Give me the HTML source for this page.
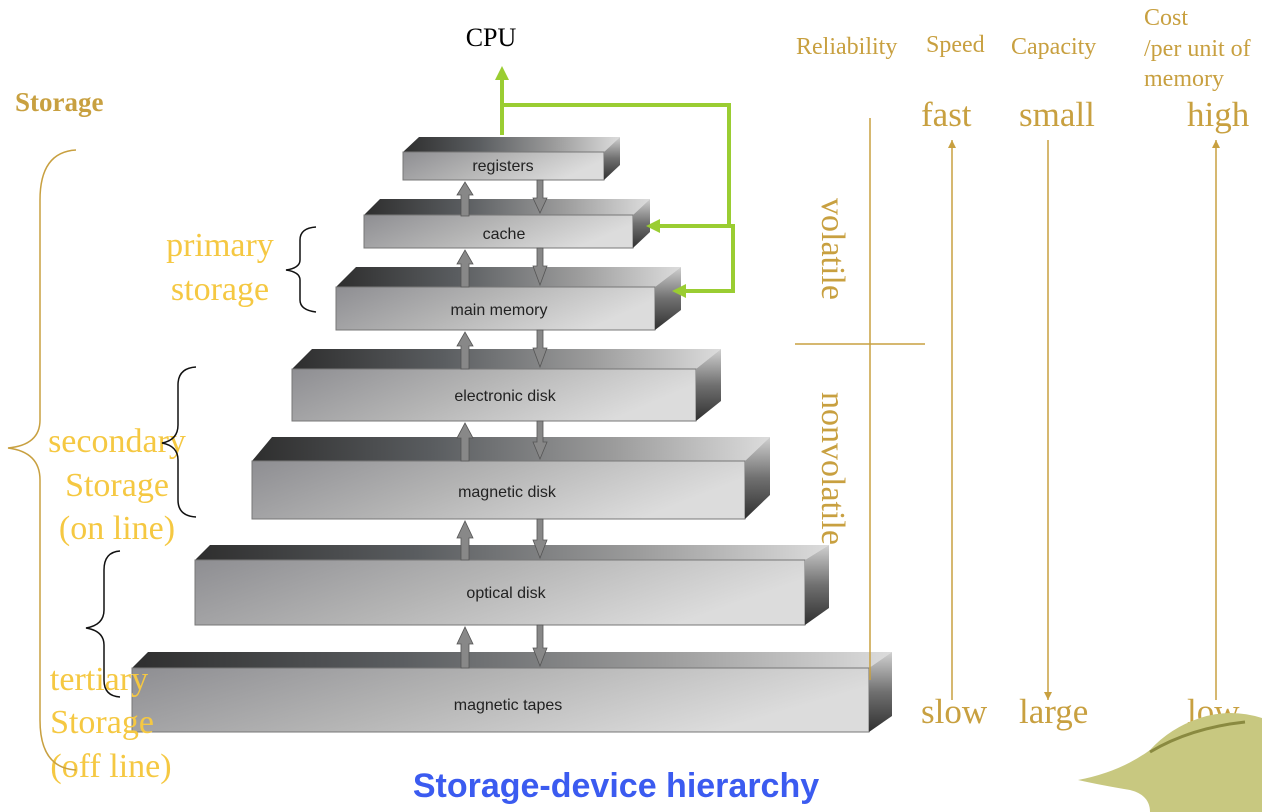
<!DOCTYPE html>
<html><head><meta charset="utf-8"><style>
html,body{margin:0;padding:0;background:#fff;}
svg{display:block}
</style></head><body>
<svg width="1264" height="812" viewBox="0 0 1264 812" xmlns="http://www.w3.org/2000/svg">
<defs>
<linearGradient id="top" x1="0" x2="1" y1="0" y2="0">
<stop offset="0" stop-color="#2e2e2e"/><stop offset="0.35" stop-color="#5a5d60"/><stop offset="0.7" stop-color="#9c9c9c"/><stop offset="1" stop-color="#dcdcdc"/></linearGradient>
<linearGradient id="front" x1="0" x2="1" y1="0" y2="0.3">
<stop offset="0" stop-color="#8e8e92"/><stop offset="0.5" stop-color="#b4b4b4"/><stop offset="1" stop-color="#dcdcdc"/></linearGradient>
<linearGradient id="side" x1="0" x2="0" y1="0" y2="1">
<stop offset="0" stop-color="#d0d0d0"/><stop offset="0.5" stop-color="#707070"/><stop offset="1" stop-color="#303030"/></linearGradient>
<marker id="ga" markerWidth="14" markerHeight="14" refX="10" refY="7" orient="auto" markerUnits="userSpaceOnUse"><path d="M0,0 L14,7 L0,14z" fill="#9acd32"/></marker>
<marker id="ya" markerWidth="10" markerHeight="10" refX="8" refY="5" orient="auto" markerUnits="userSpaceOnUse"><path d="M0,1 L8,5 L0,9z" fill="#c8a040"/></marker>
</defs>
<g font-family="Liberation Sans, sans-serif" font-size="16" fill="#222" text-anchor="middle">
<g>
<polygon points="403,152 419,137 620,137 604,152" fill="url(#top)"/>
<rect x="403" y="152" width="201" height="28" fill="url(#front)" stroke="#777" stroke-width="1"/>
<polygon points="604,152 620,137 620,165 604,180" fill="url(#side)"/>
<text x="503" y="171">registers</text>
</g>
<g>
<polygon points="364,215 380,199 650,199 633,215" fill="url(#top)"/>
<rect x="364" y="215" width="269" height="33" fill="url(#front)" stroke="#777"/>
<polygon points="633,215 650,199 650,232 633,248" fill="url(#side)"/>
<text x="504" y="239">cache</text>
</g>
<g>
<polygon points="336,287 356,267 681,267 655,287" fill="url(#top)"/>
<rect x="336" y="287" width="319" height="43" fill="url(#front)" stroke="#777"/>
<polygon points="655,287 681,267 681,310 655,330" fill="url(#side)"/>
<text x="499" y="315">main memory</text>
</g>
<g>
<polygon points="292,369 312,349 721,349 696,369" fill="url(#top)"/>
<rect x="292" y="369" width="404" height="52" fill="url(#front)" stroke="#777"/>
<polygon points="696,369 721,349 721,401 696,421" fill="url(#side)"/>
<text x="505" y="401">electronic disk</text>
</g>
<g>
<polygon points="252,461 272,437 770,437 745,461" fill="url(#top)"/>
<rect x="252" y="461" width="493" height="58" fill="url(#front)" stroke="#777"/>
<polygon points="745,461 770,437 770,495 745,519" fill="url(#side)"/>
<text x="507" y="497">magnetic disk</text>
</g>
<g>
<polygon points="195,560 210,545 829,545 805,560" fill="url(#top)"/>
<rect x="195" y="560" width="610" height="65" fill="url(#front)" stroke="#777"/>
<polygon points="805,560 829,545 829,608 805,625" fill="url(#side)"/>
<text x="506" y="598">optical disk</text>
</g>
<g>
<polygon points="132,668 148,652 892,652 869,668" fill="url(#top)"/>
<rect x="132" y="668" width="737" height="64" fill="url(#front)" stroke="#777"/>
<polygon points="869,668 892,652 892,716 869,732" fill="url(#side)"/>
<text x="508" y="710">magnetic tapes</text>
</g>
</g>
<g fill="#888" stroke="#555" stroke-width="0.8">
<path d="M461,216 V195 H457 L465,182 L473,195 H469 V216z"/>
<path d="M537,180 V198 H533 L540,213 L547,198 H543 V180z"/>
<path d="M461,287 V264 H457 L465,250 L473,264 H469 V287z"/>
<path d="M537,248 V266 H533 L540,285 L547,266 H543 V248z"/>
<path d="M461,369 V346 H457 L465,332 L473,346 H469 V369z"/>
<path d="M537,330 V348 H533 L540,367 L547,348 H543 V330z"/>
<path d="M461,461 V438 H457 L465,423 L473,438 H469 V461z"/>
<path d="M537,421 V442 H533 L540,459 L547,442 H543 V421z"/>
<path d="M461,560 V538 H457 L465,521 L473,538 H469 V560z"/>
<path d="M537,519 V540 H533 L540,558 L547,540 H543 V519z"/>
<path d="M461,668 V644 H457 L465,627 L473,644 H469 V668z"/>
<path d="M537,625 V648 H533 L540,666 L547,648 H543 V625z"/>
</g>
<g stroke="#9acd32" stroke-width="4" fill="none">
<line x1="502" y1="135" x2="502" y2="70" marker-end="url(#ga)"/>
<polyline points="502,105 729,105 729,226 650,226" marker-end="url(#ga)"/>
<polyline points="729,226 733,226 733,291 676,291" marker-end="url(#ga)"/>
</g>
<text x="491" y="46" font-family="Liberation Serif, serif" font-size="26" text-anchor="middle">CPU</text>
<g font-family="Liberation Serif, serif" fill="#c8a040">
<text x="796" y="54" font-size="24">Reliability</text>
<text x="926" y="52" font-size="24">Speed</text>
<text x="1011" y="54" font-size="24">Capacity</text>
<text x="1144" y="25" font-size="24">Cost</text>
<text x="1144" y="56" font-size="24">/per unit of</text>
<text x="1144" y="86" font-size="24">memory</text>
<text x="921" y="126" font-size="35">fast</text>
<text x="1019" y="126" font-size="35">small</text>
<text x="1187" y="126" font-size="35">high</text>
<text x="921" y="723" font-size="35">slow</text>
<text x="1019" y="723" font-size="35">large</text>
<text x="1187" y="723" font-size="35">low</text>
<text transform="translate(822,198) rotate(90)" font-size="34">volatile</text>
<text transform="translate(822,392) rotate(90)" font-size="34">nonvolatile</text>
</g>
<g stroke="#c8a040" stroke-width="1.5" fill="none">
<line x1="870" y1="118" x2="870" y2="680"/>
<line x1="795" y1="344" x2="925" y2="344"/>
<line x1="952" y1="700" x2="952" y2="140" marker-end="url(#ya)"/>
<line x1="1048" y1="140" x2="1048" y2="700" marker-end="url(#ya)"/>
<line x1="1216" y1="700" x2="1216" y2="140" marker-end="url(#ya)"/>
</g>
<g font-family="Liberation Serif, serif">
<text x="15" y="111" font-size="27" font-weight="bold" fill="#c8a040">Storage</text>
<g fill="#f5c842" font-size="34" text-anchor="middle">
<text x="220" y="256">primary</text>
<text x="220" y="300">storage</text>
<text x="117" y="452">secondary</text>
<text x="117" y="496">Storage</text>
<text x="117" y="539">(on line)</text>
<text x="99" y="690">tertiary</text>
<text x="102" y="733">Storage</text>
<text x="111" y="777">(off line)</text>
</g>
</g>
<g fill="none" stroke="#c8a040" stroke-width="1.5">
<path d="M76,150 Q40,152 40,200 L40,420 Q40,445 8,448 Q40,452 40,480 L40,720 Q40,768 76,770"/>
</g>
<g fill="none" stroke="#111" stroke-width="1.5">
<path d="M316,227 Q300,228 300,240 L300,260 Q300,268 286,270 Q300,272 300,280 L300,300 Q300,310 316,312"/>
<path d="M196,367 Q178,368 178,385 L178,425 Q178,440 162,443 Q178,446 178,460 L178,500 Q178,516 196,517"/>
<path d="M120,551 Q104,552 104,570 L104,610 Q104,625 86,628 Q104,631 104,645 L104,680 Q104,696 120,697"/>
</g>
<text x="616" y="797" font-family="Liberation Sans, sans-serif" font-size="34" font-weight="bold" fill="#3b5bf0" text-anchor="middle">Storage-device hierarchy</text>
<g>
<path d="M1078,780 Q1120,772 1150,750 Q1170,728 1200,718 Q1230,708 1262,718 L1262,812 L1150,812 Q1150,795 1130,790 Q1100,785 1078,780z" fill="#c8c880"/>
<path d="M1150,752 Q1190,728 1245,722" stroke="#8a8a40" stroke-width="3" fill="none"/>
</g>
</svg>
</body></html>
